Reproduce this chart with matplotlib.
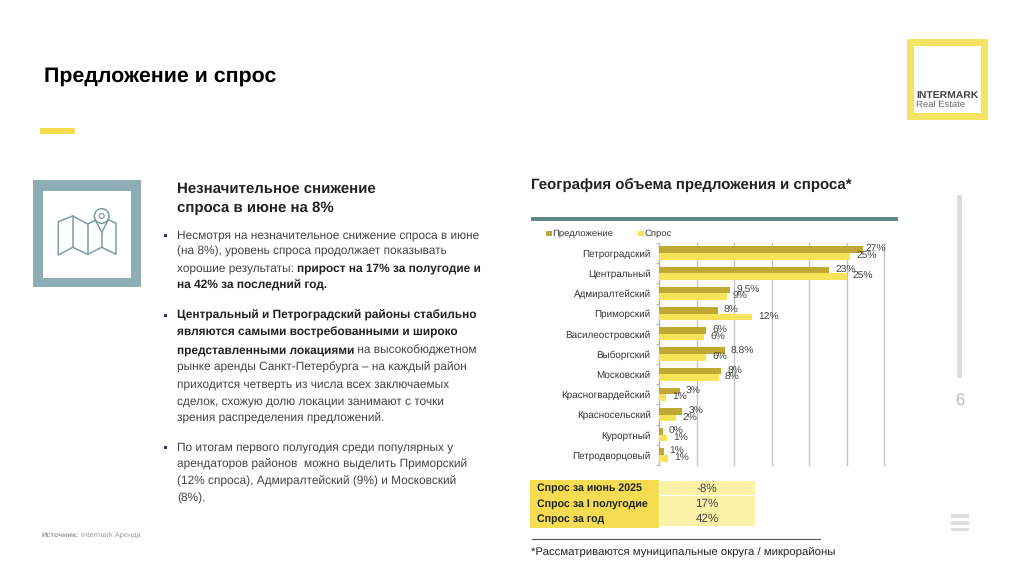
"""Slide: supply and demand by district, rent market."""

import matplotlib
matplotlib.use("Agg")
import matplotlib.pyplot as plt
from matplotlib.patches import Rectangle

plt.rcParams["font.family"] = ["Liberation Sans", "DejaVu Sans"]
plt.rcParams["text.hinting"] = "no_hinting"

districts = ["Петроградский", "Центральный", "Адмиралтейский", "Приморский",
             "Василеостровский", "Выборгский", "Московский", "Красногвардейский",
             "Красносельский", "Курортный", "Петродворцовый"]
supply = [27.2, 22.7, 9.5, 7.8, 6.3, 8.8, 8.3, 2.8, 3.1, 0.5, 0.6]
demand = [25.5, 25.0, 9.0, 12.4, 6.0, 6.3, 8.0, 0.95, 2.3, 1.1, 1.2]
supply_labels = ["27%", "23%", "9,5%", "8%", "6%", "8,8%", "8%", "3%", "3%", "0%", "1%"]
demand_labels = ["25%", "25%", "9%", "12%", "6%", "6%", "8%", "1%", "2%", "1%", "1%"]

table_names = ["Спрос за июнь 2025", "Спрос за I полугодие", "Спрос за год"]
table_values = ["-8%", "17%", "42%"]

W, H = 1024, 573
YELLOW = "#F5E462"
DARK_YELLOW = "#BFA934"
BAR_YELLOW = "#F7E35A"
TEAL = "#8FADB5"
ICON = "#7E9CA3"
TEXT = "#222222"
BODY = "#444444"

fig = plt.figure(figsize=(W / 100, H / 100), dpi=100, facecolor="white")
bg = fig.add_axes([0, 0, 1, 1])
bg.set_xlim(0, W)
bg.set_ylim(H, 0)
bg.axis("off")


def box(x, y, w, h, color):
    bg.add_patch(Rectangle((x, y), w, h, facecolor=color, edgecolor="none"))


# header
bg.text(44, 76, "Предложение и спрос", fontsize=15.42, fontweight="bold",
        color="black", va="center")
box(40, 128, 35, 6, "#F3DC4E")

# logo
box(907, 39, 81, 81, YELLOW)
box(914, 46, 67, 67, "white")
bg.text(916, 95, "INTERMARK", fontsize=7.5, fontweight="bold", color="#444444", va="center")
bg.text(916, 105, "Real Estate", fontsize=6.8, color="#666666", va="center")

# map icon
box(33, 180, 108, 107, TEAL)
box(43, 190.5, 88, 87, "white")
bg.plot([95, 87.7, 72.7, 58.3, 58.3, 72.7, 87.7, 101.7, 116, 116, 109],
        [220.5, 224, 216, 221.7, 255, 247.3, 254.3, 247.3, 254.3, 223.3, 220],
        color=ICON, lw=1.1)
bg.plot([72.7, 72.7], [216, 247.3], color=ICON, lw=1.1)
bg.plot([87.7, 87.7], [224, 254.3], color=ICON, lw=1.1)
bg.plot([101.7, 101.7], [232.3, 247.3], color=ICON, lw=1.1)
bg.plot([95, 101.7, 108.4], [219.5, 232.3, 219.5], color=ICON, lw=1.1)
bg.add_patch(plt.Circle((101.7, 216), 7.3, fc="none", ec=ICON, lw=1.1))
bg.add_patch(plt.Circle((101.7, 216), 2.5, fc="none", ec=ICON, lw=0.9))

# left text block
bg.text(177, 189, "Незначительное снижение", fontsize=10.85, fontweight="bold", color=TEXT, va="center")
bg.text(177, 208, "спроса в июне на 8%", fontsize=10.85, fontweight="bold", color=TEXT, va="center")

body = [
    (235, [("Несмотря на незначительное снижение спроса в июне", False)]),
    (251.5, [("(на 8%), уровень спроса продолжает показывать", False)]),
    (268.5, [("хорошие результаты: ", False), ("прирост на 17% за полугодие и", True)]),
    (285, [("на 42% за последний год.", True)]),
    (315, [("Центральный и Петроградский районы стабильно", True)]),
    (332, [("являются самыми востребованными и широко", True)]),
    (350, [("представленными локациями", True), (" на высокобюджетном", False)]),
    (367, [("рынке аренды Санкт-Петербурга – на каждый район", False)]),
    (384, [("приходится четверть из числа всех заключаемых", False)]),
    (401, [("сделок, схожую долю локации занимают с точки", False)]),
    (418, [("зрения распределения предложений.", False)]),
    (447, [("По итогам первого полугодия среди популярных у", False)]),
    (464, [("арендаторов районов  можно выделить Приморский", False)]),
    (481, [("(12% спроса), Адмиралтейский (9%) и Московский", False)]),
    (498, [("(8%).", False)]),
]
fig.canvas.draw()
renderer = fig.canvas.get_renderer()
for y, parts in body:
    x = 177
    for s, is_bold in parts:
        t = bg.text(x, y, s, fontsize=8.55, fontweight="bold" if is_bold else "normal",
                    color=TEXT if is_bold else BODY, va="center")
        x += t.get_window_extent(renderer).width
for y in (235, 315, 447):
    box(164, y - 1.5, 3.2, 3.2, "#1F3A6E")

bg.text(41, 535, "Источник:", fontsize=5.4, fontweight="bold", color="#999999", va="center")
bg.text(81, 535, "Intermark Аренда", fontsize=5.4, color="#999999", va="center")

# chart heading
bg.text(531, 185, "География объема предложения и спроса*", fontsize=10.85,
        fontweight="bold", color=TEXT, va="center")
box(531, 217, 367, 4, "#5F8A8B")

# chart
ax = fig.add_axes([659 / W, 1 - 465 / H, 225 / W, 222 / H])
pos = list(range(len(districts)))
h = 0.33
ax.barh([p - h / 2 for p in pos], supply, height=h, color=DARK_YELLOW, label="Предложение", zorder=3)
ax.barh([p + h / 2 for p in pos], demand, height=h, color=BAR_YELLOW, label="Спрос", zorder=3)
ax.set_xlim(0, 30)
ax.set_ylim(len(districts) - 0.5, -0.5)
ax.set_yticks(pos)
ax.set_yticklabels(districts, fontsize=7.1, color="#333333")
ax.set_yticks([p - 0.5 for p in pos] + [len(pos) - 0.5], minor=True)
ax.set_xticks(range(0, 31, 5))
ax.tick_params(axis="x", length=0, labelbottom=False)
ax.tick_params(axis="y", which="major", length=0, pad=6)
ax.tick_params(axis="y", which="minor", length=2, width=0.8, color="#AEB9C4")
ax.grid(axis="x", color="#C4C4C4", lw=1.0, zorder=0, clip_on=False)
for side in ("top", "right", "bottom"):
    ax.spines[side].set_visible(False)
ax.spines["left"].set_color("#AEB9C4")
ax.patch.set_alpha(0)
for i in pos:
    off = 2 if i == 0 else 6
    ax.annotate(supply_labels[i], (supply[i], i - h / 2), xytext=(off * 0.72, 0),
                textcoords="offset points", fontsize=7.4, color="#444444", va="center", zorder=5)
    ax.annotate(demand_labels[i], (demand[i], i + h / 2), xytext=(6 * 0.72, 0),
                textcoords="offset points", fontsize=7.4, color="#444444", va="center", zorder=5)

# legend drawn as on the slide
box(546, 231, 6, 5, DARK_YELLOW)
bg.text(552, 234, "Предложение", fontsize=6.8, color="#333333", va="center")
box(638, 231, 6, 5, BAR_YELLOW)
bg.text(645, 234, "Спрос", fontsize=6.8, color="#333333", va="center")

# summary table
box(530, 479.5, 129, 48, "#F6DC52")
for i, (name, val) in enumerate(zip(table_names, table_values)):
    y = 481 + i * 15.2
    box(660, y, 94.5, 14.3, "#FBF2A8")
    bg.text(537, y + 7.3, name, fontsize=7.7, fontweight="bold", color=TEXT, va="center")
    bg.text(707, y + 7.3, val, fontsize=8.4, color="#444444", va="center", ha="center")

bg.plot([532, 820], [538.5, 538.5], color="#555555", lw=0.8)
bg.text(531, 552, "*Рассматриваются муниципальные округа / микрорайоны", fontsize=8.2,
        color=TEXT, va="center")

# page side elements
box(957, 195, 5, 183, "#DDDDDD")
bg.text(960, 401, "6", fontsize=12, color="#BBBBBB", va="center", ha="center")
for y in (514, 521, 527.5):
    box(951, y, 18, 3.5, "#DDDDDD")

fig.savefig("out.png", dpi=100, facecolor="white")
plt.close(fig)
